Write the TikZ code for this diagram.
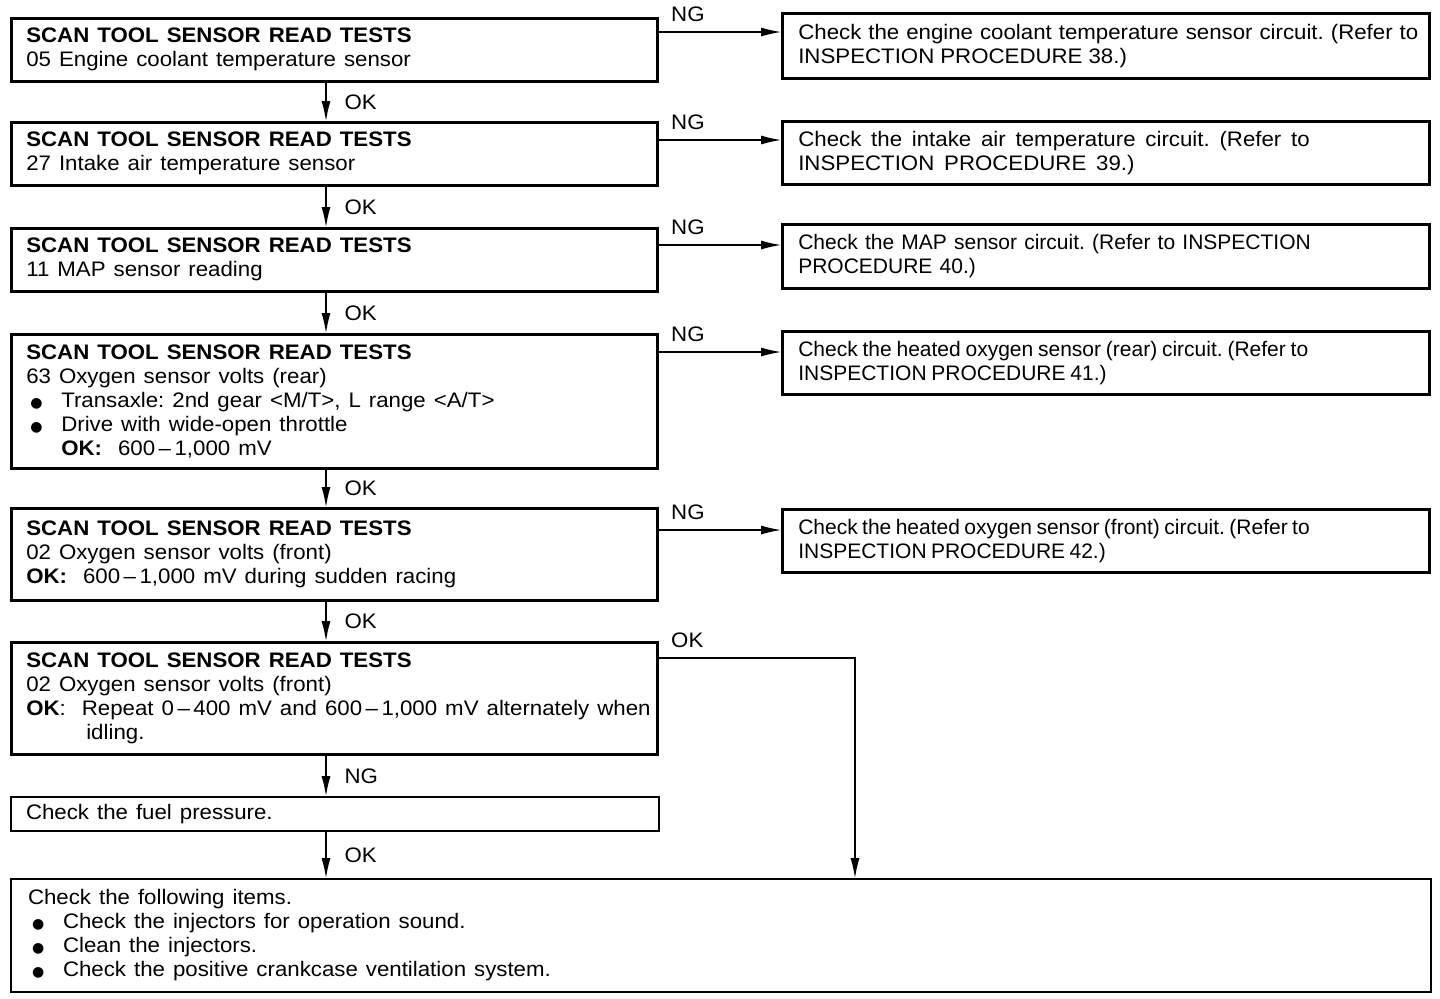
\documentclass[tikz,border=0pt]{standalone}
\usepackage{fontspec}
\setmainfont{Liberation Sans}[FakeStretch=1.06]
\newfontfamily\plainfont{Liberation Sans}
\newfontfamily\symfont{DejaVu Sans}
\usetikzlibrary{arrows.meta}

\newcommand{\bul}{\hspace*{2pt}\makebox[15.5pt][l]{\symfont\fontsize{7}{12}\selectfont ●}}

\begin{document}
\begin{tikzpicture}[x=0.5pt, y=-0.5pt,
    test/.style={draw, line width=1.3pt, anchor=north west, inner xsep=7.5pt, inner ysep=0pt,
      text width=308pt, align=left, font=\fontsize{10.5}{12}\selectfont, gap=4pt},
    fix/.style={test, text width=307.5pt, inner xsep=8pt},
    plain/.style={font=\plainfont\fontsize{10.5}{12}\selectfont},
    gap/.style={execute at begin node={\spaceskip=#1 plus 1pt\xspaceskip=#1 plus 1pt\relax}},
    arr/.style={-{Latex[length=10pt, width=4.5pt]}, line width=0.6pt},
    lbl/.style={font=\fontsize{10.5}{12}\selectfont, inner sep=2pt}]
    \useasboundingbox (0,0) rectangle (1440,998);

    % Tests
    \node[test, minimum height=31.5pt] (t1) at (10,17) {\textbf{SCAN TOOL SENSOR READ TESTS}\\05 Engine coolant temperature sensor};
    \node[test, minimum height=31.5pt] (t2) at (10,121) {\textbf{SCAN TOOL SENSOR READ TESTS}\\27 Intake air temperature sensor};
    \node[test, minimum height=31.5pt] (t3) at (10,227) {\textbf{SCAN TOOL SENSOR READ TESTS}\\11 MAP sensor reading};
    \node[test, minimum height=67pt] (t4) at (10,333) {\textbf{SCAN TOOL SENSOR READ TESTS}\\63 Oxygen sensor volts (rear)\\
      \bul Transaxle: 2nd gear <M/T>, L range <A/T>\\\bul Drive with wide-open throttle\\
      \hspace*{17.5pt}\textbf{OK:}\ \ 600\,–\,1,000 mV};
    \node[test, minimum height=46pt] (t5) at (10,507) {\textbf{SCAN TOOL SENSOR READ TESTS}\\02 Oxygen sensor volts (front)\\
      \textbf{OK:}\ \ 600\,–\,1,000 mV during sudden racing};
    \node[test, minimum height=56pt] (t6) at (10,641) {\textbf{SCAN TOOL SENSOR READ TESTS}\\02 Oxygen sensor volts (front)\\
      \makebox[310pt][s]{\textbf{OK}:\ \ Repeat 0\,–\,400 mV and 600\,–\,1,000 mV alternately when}\\
      \hspace*{30pt}idling.};
    \node[test, text width=309pt, minimum height=17pt, line width=1pt] (fuel) at (10,796) {Check the fuel pressure.};
    \node[test, text width=693pt, inner xsep=8.5pt, minimum height=56.5pt, line width=1pt] (fin) at (10,878) {Check the following items.\\
      \bul Check the injectors for operation sound.\\\bul Clean the injectors.\\
      \bul Check the positive crankcase ventilation system.};

    % Fixes
    \node[fix, gap=3pt, minimum height=32.5pt] (r1) at (781,12) {\makebox[310pt][s]{Check the engine coolant temperature sensor circuit. (Refer to}\\INSPECTION PROCEDURE 38.)};
    \node[fix, gap=4.9pt, minimum height=31.5pt] (r2) at (781,120) {Check the intake air temperature circuit. (Refer to\\INSPECTION PROCEDURE 39.)};
    \node[fix, plain, gap=3.6pt, minimum height=32pt] (r3) at (781,223) {Check the MAP sensor circuit. (Refer to INSPECTION\\PROCEDURE 40.)};
    \node[fix, plain, gap=2.4pt, minimum height=31.5pt] (r4) at (781,330) {Check the heated oxygen sensor (rear) circuit. (Refer to\\INSPECTION PROCEDURE 41.)};
    \node[fix, plain, gap=2.2pt, minimum height=31.5pt] (r5) at (781,508) {Check the heated oxygen sensor (front) circuit. (Refer to\\INSPECTION PROCEDURE 42.)};

    \coordinate (spine) at (326,0);
    \coordinate (okdrop) at (855,0);

    % OK / NG down
    \draw[arr] (t1.south -| spine) -- (t2.north -| spine) node[lbl, midway, right=7pt] {OK};
    \draw[arr] (t2.south -| spine) -- (t3.north -| spine) node[lbl, midway, right=7pt] {OK};
    \draw[arr] (t3.south -| spine) -- (t4.north -| spine) node[lbl, midway, right=7pt] {OK};
    \draw[arr] (t4.south -| spine) -- (t5.north -| spine) node[lbl, midway, right=7pt] {OK};
    \draw[arr] (t5.south -| spine) -- (t6.north -| spine) node[lbl, midway, right=7pt] {OK};
    \draw[arr] (t6.south -| spine) -- (fuel.north -| spine) node[lbl, midway, right=7pt] {NG};
    \draw[arr] (fuel.south -| spine) -- (fin.north -| spine) node[lbl, midway, right=7pt] {OK};

    % NG across
    \draw[arr] ([yshift=-7.5pt]t1.north east) -- ([yshift=-7.5pt]t1.north east -| r1.west)
      node[lbl, pos=0, anchor=south west, xshift=4pt, yshift=3pt] {NG};
    \draw[arr] ([yshift=-9.5pt]t2.north east) -- ([yshift=-9.5pt]t2.north east -| r2.west)
      node[lbl, pos=0, anchor=south west, xshift=4pt, yshift=3pt] {NG};
    \draw[arr] ([yshift=-9pt]t3.north east) -- ([yshift=-9pt]t3.north east -| r3.west)
      node[lbl, pos=0, anchor=south west, xshift=4pt, yshift=3pt] {NG};
    \draw[arr] ([yshift=-9.5pt]t4.north east) -- ([yshift=-9.5pt]t4.north east -| r4.west)
      node[lbl, pos=0, anchor=south west, xshift=4pt, yshift=3pt] {NG};
    \draw[arr] ([yshift=-11.5pt]t5.north east) -- ([yshift=-11.5pt]t5.north east -| r5.west)
      node[lbl, pos=0, anchor=south west, xshift=4pt, yshift=3pt] {NG};

    % OK to the end
    \draw[arr] ([yshift=-8.5pt]t6.north east) -| (fin.north -| okdrop)
      node[lbl, pos=0, anchor=south west, xshift=4pt, yshift=3pt] {OK};
\end{tikzpicture}
\end{document}
